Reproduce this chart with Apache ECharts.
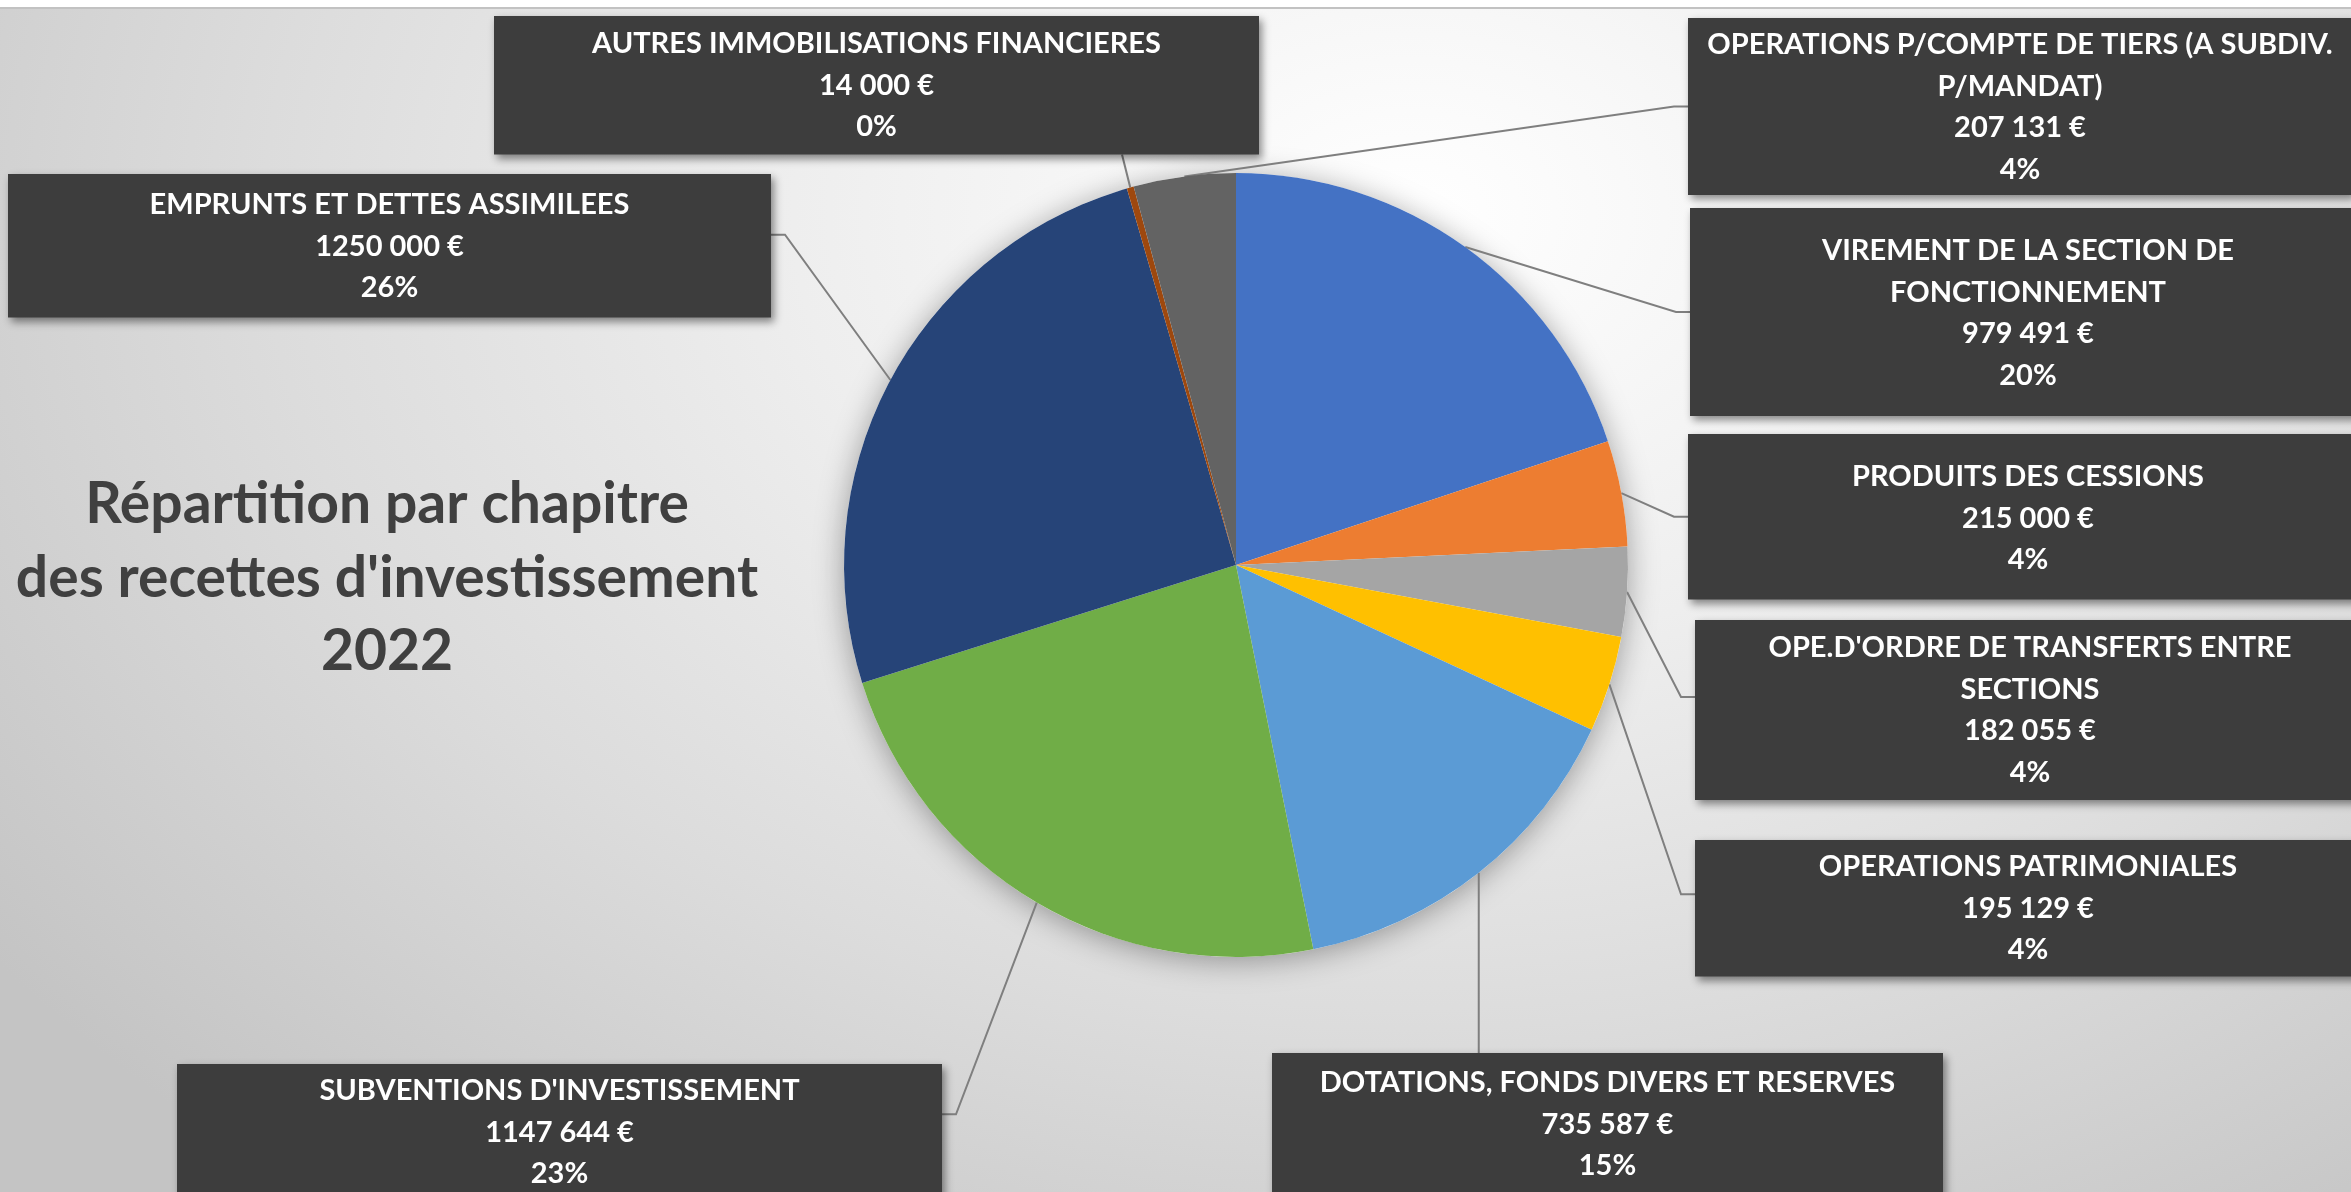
<!DOCTYPE html>
<html>
<head>
<meta charset="utf-8">
<script src="https://cdn.jsdelivr.net/npm/echarts@6/dist/echarts.min.js"></script>
<style>
html, body { margin: 0; padding: 0; }
.box {
  width: 2351px;
  height: 1192px;
  background:
    linear-gradient(#ffffff 0 7px, #c2c2c2 7px 9px, transparent 9px),
    radial-gradient(ellipse 75% 105% at 60% 18%, #ffffff 0%, #eeeeee 35%, #dcdcdc 65%, #c4c4c4 100%);
}
</style>
</head>
<body>
<div class="box" id="main"></div>
<script>
// chapitres, sens horaire depuis midi
const chapitres = [
  "VIREMENT DE LA SECTION DE FONCTIONNEMENT",
  "PRODUITS DES CESSIONS",
  "OPE.D'ORDRE DE TRANSFERTS ENTRE SECTIONS",
  "OPERATIONS PATRIMONIALES",
  "DOTATIONS, FONDS DIVERS ET RESERVES",
  "SUBVENTIONS D'INVESTISSEMENT",
  "EMPRUNTS ET DETTES ASSIMILEES",
  "AUTRES IMMOBILISATIONS FINANCIERES",
  "OPERATIONS P/COMPTE DE TIERS (A SUBDIV. P/MANDAT)",
];
const montants = [979491, 215000, 182055, 195129, 735587, 1147644, 1250000, 14000, 207131];
const couleurs = ["#4472C4", "#ED7D31", "#A5A5A5", "#FFC000", "#5B9BD5", "#70AD47", "#264478", "#9E480E", "#636363"];
const titre = ["Répartition par chapitre", "des recettes d'investissement", "2022"];

// cadres des étiquettes (placés à la main comme dans Excel)
const cadres = [
  { x: 1690, y: 208, w: 676, pt: 22, pb: 20, side: "left" },
  { x: 1688, y: 434, w: 680, pt: 22, pb: 19, side: "left" },
  { x: 1695, y: 620, w: 670, pt: 7, pb: 7, side: "left", dy: -13 },
  { x: 1695, y: 840, w: 666, pt: 6, pb: 6, side: "left", dy: -14 },
  { x: 1272, y: 1053, w: 671, pt: 9, pb: 9, side: "top" },
  { x: 177, y: 1064, w: 765, pt: 6, pb: 6, side: "right", dy: -18 },
  { x: 8, y: 174, w: 763, pt: 10, pb: 9, side: "right", dy: -11 },
  { x: 494, y: 16, w: 765, pt: 7, pb: 7, side: "bottom", ax: 1122 },
  { x: 1688, y: 18, w: 664, pt: 6, pb: 5, side: "left" },
];

// 1250000 -> "1250 000 €"
function euro(v) {
  let k = Math.floor(v / 1000);
  let r = String(v % 1000).padStart(3, "0");
  return k + " " + r + " €";
}

// coupe le libellé en lignes de 39 caractères max
function couper(txt, max) {
  let lignes = [];
  let cur = "";
  txt.split(" ").forEach((m) => {
    if (cur && (cur + " " + m).length > max) {
      lignes.push(cur);
      cur = m;
    } else {
      cur = cur ? cur + " " + m : m;
    }
  });
  lignes.push(cur);
  return lignes.join("\n");
}

let donnees = chapitres.map((nom, i) => ({
  name: nom,
  value: montants[i],
  itemStyle: { color: couleurs[i] },
  label: {
    width: cadres[i].w - 20,
    padding: [cadres[i].pt, 10, cadres[i].pb, 10],
  },
}));

let myChart = echarts.init(document.getElementById("main"));
let option = {
  animation: false,
  graphic: [
    {
      type: "text",
      x: 387,
      y: 468,
      style: {
        text: titre.join("\n"),
        fill: "#404040",
        fontFamily: "Lato",
        fontWeight: "bold",
        fontSize: 57,
        lineHeight: 73.5,
        align: "center",
        textAlign: "center",
        verticalAlign: "top",
        textVerticalAlign: "top",
      },
    },
  ],
  series: [
    {
      // ombre sous le camembert
      type: "pie",
      silent: true,
      z: 1,
      center: [1236, 565],
      radius: 392,
      data: [{ value: 1 }],
      itemStyle: {
        color: "#ffffff",
        shadowBlur: 30,
        shadowColor: "rgba(0,0,0,0.35)",
        shadowOffsetY: 4,
      },
      label: { show: false },
      labelLine: { show: false },
    },
    {
      type: "pie",
      z: 2,
      center: [1236, 565],
      radius: 392,
      startAngle: 90,
      clockwise: true,
      percentPrecision: 0,
      data: donnees,
      itemStyle: { borderWidth: 0 },
      label: {
        show: true,
        position: "outside",
        color: "#ffffff",
        fontFamily: "Lato",
        fontWeight: "bold",
        fontSize: 29,
        lineHeight: 41.5,
        align: "center",
        backgroundColor: "#3d3d3d",
        shadowColor: "rgba(0,0,0,0.45)",
        shadowBlur: 8,
        shadowOffsetX: 3,
        shadowOffsetY: 4,
        formatter: (p) => couper(p.name, 39) + "\n" + euro(p.value) + "\n" + p.percent + "%",
      },
      labelLine: {
        show: true,
        length: 20,
        length2: 20,
        lineStyle: { color: "#7f7f7f", width: 2 },
      },
      labelLayout: function (params) {
        let c = cadres[params.dataIndex];
        let h = params.labelRect.height;
        let p0 = params.labelLinePoints[0].slice();
        let midY = c.y + h / 2 + (c.dy || 0);
        let bend, end;
        if (c.side === "left") {
          end = [c.x, midY];
          bend = [c.x - 14, midY];
        } else if (c.side === "right") {
          end = [c.x + c.w, midY];
          bend = [c.x + c.w + 14, midY];
        } else if (c.side === "top") {
          end = [p0[0], c.y];
          bend = end.slice();
        } else {
          end = [c.ax, c.y + h];
          bend = end.slice();
        }
        return {
          x: c.x + c.w / 2,
          y: c.y,
          align: "center",
          verticalAlign: "top",
          labelLinePoints: [p0, bend, end],
        };
      },
    },
  ],
};
myChart.setOption(option);
</script>
</body>
</html>
